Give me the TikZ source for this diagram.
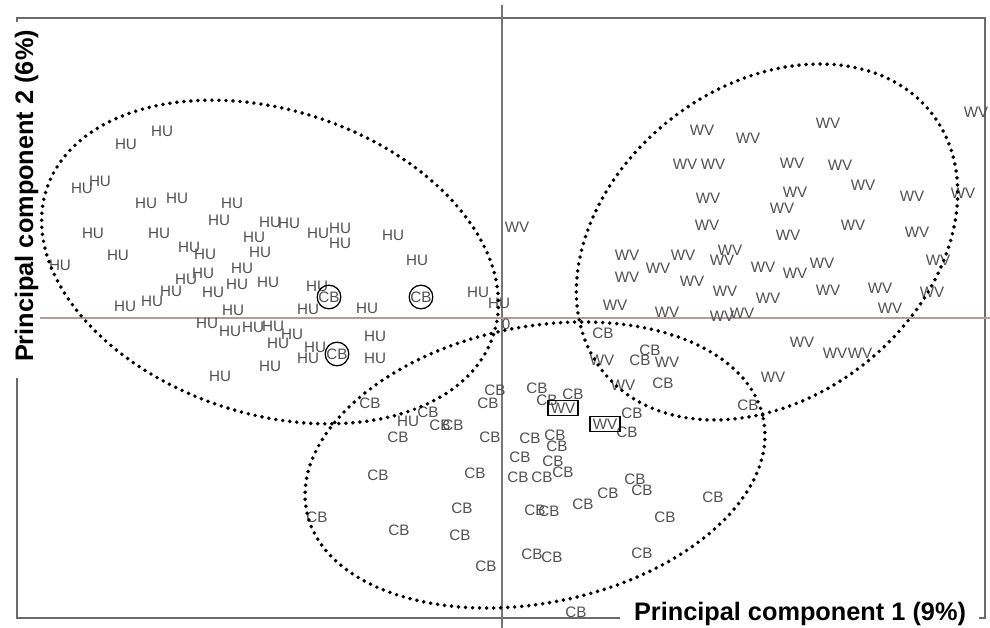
\documentclass[tikz,border=0pt]{standalone}
\usepackage{fontspec}
\setsansfont{Liberation Sans}
\usepackage{xcolor}
\usepackage{tikz}
\definecolor{labelgray}{HTML}{505050}
\definecolor{framegray}{HTML}{6A6A6A}
\definecolor{axisgray}{HTML}{767676}
\definecolor{zerorule}{HTML}{B09C98}

\begin{document}
\begin{tikzpicture}[
        x=0.025cm, y=-0.025cm,
        every node/.style={font=\sffamily\fontsize{10.8}{12}\selectfont, text=labelgray, inner sep=0pt},
        ring/.style={draw=black, line width=2.8pt, line cap=round, dash pattern=on 0pt off 5pt},
        circled/.style={circle, draw=black, line width=0.9pt, minimum size=0.55cm},
        boxed/.style={rectangle, draw=black, line width=0.9pt, minimum width=0.75cm, minimum height=0.375cm},
        axislabel/.style={font=\sffamily\bfseries\fontsize{18}{20}\selectfont, text=black, anchor=base}
    ]
    \useasboundingbox (0,0) rectangle (990,628);
    \draw[framegray, line width=1.2pt] (17,22) -- (17,18) -- (985,18) -- (985,618) -- (979,618);
    \draw[framegray, line width=1.2pt] (17,378) -- (17,618) -- (620,618);
    \draw[axisgray, line width=1pt] (502,5) -- (502,628);
    \draw[zerorule, line width=1pt] (40,318) -- (990,318);
    \node (zero) at (506,324) {0};

    \foreach \x/\y [count=\i] in {162/131,126/144,100/181,82/188,146/203,177/198,232/203,219/220,270/222,289/223,
        93/233,159/233,254/237,189/247,205/254,118/255,260/252,60/265,203/273,186/279,242/268,268/282,237/284,
        171/291,213/292,152/301,125/306,233/310,207/323,230/331,253/327,273/326,292/334,278/343,308/309,317/286,
        315/347,308/358,270/366,220/376,318/233,340/228,340/243,393/235,417/260,367/308,375/336,375/358,
        478/292,499/303,408/421}
        \node (hu\i) at (\x,\y) {HU};

    \foreach \x/\y [count=\i] in {603/333,650/350,640/360,663/383,748/405,632/413,627/432,573/394,537/388,547/400,
        495/390,488/403,490/437,370/403,428/412,398/437,440/425,453/425,530/438,555/435,557/446,520/457,553/461,
        518/477,542/477,563/472,475/473,378/475,317/517,399/530,462/508,460/535,486/566,535/510,549/511,583/504,
        608/493,635/479,642/490,713/497,665/517,642/553,532/554,552/557,576/612}
        \node (cb\i) at (\x,\y) {CB};

    \foreach \x/\y [count=\i] in {517/227,976/112,702/130,748/138,828/123,685/164,713/164,792/163,840/165,863/185,
        795/192,782/208,708/198,912/196,963/193,707/225,788/235,853/225,917/232,627/255,683/255,730/250,722/260,
        658/268,763/267,795/273,822/263,938/260,627/277,692/281,725/291,768/298,828/290,880/288,932/292,615/305,
        667/312,742/313,722/316,890/308,802/342,835/353,860/353,773/377,623/385,602/360,667/362}
        \node (wv\i) at (\x,\y) {WV};

    \node[circled] (cbc1) at (329,297) {CB};
    \node[circled] (cbc2) at (421,297) {CB};
    \node[circled] (cbc3) at (337,354) {CB};
    \node[boxed] (wvb1) at (563,408) {WV};
    \node[boxed] (wvb2) at (605,424) {WV};

    \draw[ring] (270,262) ellipse [x radius=235, y radius=152, rotate=-18];
    \draw[ring] (767,242) ellipse [x radius=209, y radius=156, rotate=38];
    \draw[ring] (535,465) ellipse [x radius=233, y radius=138, rotate=11.5];

    \node[axislabel] (pc1) at (800,620) {Principal component 1 (9\%)};
    \node[axislabel, rotate=90] (pc2) at (33,196) {Principal component 2 (6\%)};
\end{tikzpicture}
\end{document}
